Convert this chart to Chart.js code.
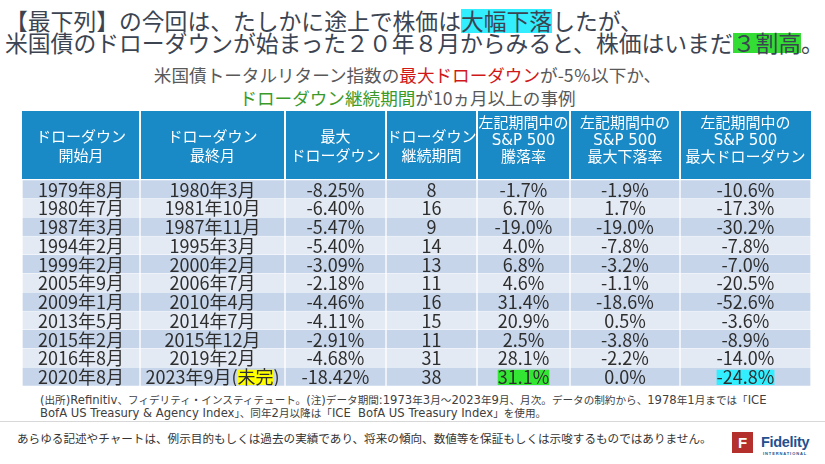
<!DOCTYPE html>
<html lang="ja"><head><meta charset="utf-8">
<script src="https://cdn.jsdelivr.net/npm/chart.js@4.4.0/dist/chart.umd.min.js"></script>
<style>
html,body{margin:0;padding:0;background:#fff;}
#page{position:relative;width:825px;height:464px;overflow:hidden;font-family:"Noto Sans CJK JP","Noto Sans",sans-serif;}
#title{position:absolute;left:5px;top:10px;font-size:22.8px;line-height:22px;color:#3c4452;white-space:nowrap;}
.hl{background-repeat:no-repeat;background-position:0 55%;}
.cy{background-image:linear-gradient(#33eeff,#33eeff);background-size:100% 24px;}
.gr{background-image:linear-gradient(#33dd33,#33dd33);background-size:100% 20px;}
#sub{position:absolute;left:0;width:815px;top:63px;text-align:center;font-size:17.6px;line-height:23px;color:#595959;white-space:nowrap;}
.red{color:#d01818}.grn{color:#3a9a2a}
#chartBox{position:absolute;left:22px;top:111px;width:789px;height:275px;}
#note{position:absolute;left:40px;top:394px;font-size:10.6px;line-height:11.7px;color:#404040;white-space:nowrap;}
#note .lt{font-family:"DejaVu Sans",sans-serif;font-size:11.6px;}
#rule{position:absolute;left:0;top:421px;width:825px;height:1px;background:#d8d8d8;}
#disc{position:absolute;left:17px;top:431px;font-size:11.6px;line-height:14px;color:#333;white-space:nowrap;}
#logoMark{position:absolute;left:732px;top:432px;width:21px;height:21px;background:#b3302c;color:#fff;font:bold 15px "Liberation Sans",sans-serif;text-align:center;line-height:21px;}
#logoText{position:absolute;left:761px;top:434px;font:bold 14.5px "Liberation Sans",sans-serif;letter-spacing:-0.3px;color:#23508e;line-height:16px;}
#logoSub{position:absolute;left:763px;top:451px;font:bold 4px "Liberation Sans",sans-serif;letter-spacing:0.9px;color:#23508e;line-height:5px;}
</style></head>
<body><div id="page">
<div id="title">【最下列】の今回は、たしかに途上で株価は<span class="hl cy">大幅下落</span>したが、<br>米国債のドローダウンが始まった２０年８月からみると、株価はいまだ<span class="hl gr">３割高</span>。</div>
<div id="sub">米国債トータルリターン指数の<span class="red">最大ドローダウン</span>が-5％以下か、<br><span class="grn">ドローダウン継続期間</span>が10ヵ月以上の事例</div>
<div id="chartBox"><canvas id="c" width="789" height="275"></canvas></div>
<div id="note"><span class="lt">(</span>出所<span class="lt">)Refinitiv</span>、フィデリティ・インスティテュート。<span class="lt">(</span>注<span class="lt">)</span>データ期間<span class="lt">:1973</span>年<span class="lt">3</span>月～<span class="lt">2023</span>年<span class="lt">9</span>月、月次。データの制約から、<span class="lt">1978</span>年<span class="lt">1</span>月までは「<span class="lt">ICE</span><br><span class="lt">BofA US Treasury &amp; Agency Index</span>」、同年<span class="lt">2</span>月以降は「<span class="lt">ICE&nbsp; BofA US Treasury Index</span>」を使用。</div>
<div id="rule"></div>
<div id="disc">あらゆる記述やチャートは、例示目的もしくは過去の実績であり、将来の傾向、数値等を保証もしくは示唆するものではありません。</div>
<div id="logoMark">F</div>
<div id="logoText">Fidelity</div>
<div id="logoSub">INTERNATIONAL</div>
</div>
<script>
// ---- data ----
const columnHeaders = [
  ['ドローダウン','開始月'],
  ['ドローダウン','最終月'],
  ['最大','ドローダウン'],
  ['ドローダウン','継続期間'],
  ['左記期間中の','S&P 500','騰落率'],
  ['左記期間中の','S&P 500','最大下落率'],
  ['左記期間中の','S&P 500','最大ドローダウン']
];
const startMonths = ['1979年8月','1980年7月','1987年3月','1994年2月','1999年2月','2005年9月','2009年1月','2013年5月','2015年2月','2016年8月','2020年8月'];
const endMonths = ['1980年3月','1981年10月','1987年11月','1995年3月','2000年2月','2006年7月','2010年4月','2014年7月','2015年12月','2019年2月','2023年9月(未完)'];
const maxDrawdown = [-8.25,-6.40,-5.47,-5.40,-3.09,-2.18,-4.46,-4.11,-2.91,-4.68,-18.42];
const durationMonths = [8,16,9,14,13,11,16,15,11,31,38];
const spReturn = [-1.7,6.7,-19.0,4.0,6.8,4.6,31.4,20.9,2.5,28.1,31.1];
const spMaxDecline = [-1.9,1.7,-19.0,-7.8,-3.2,-1.1,-18.6,0.5,-3.8,-2.2,0.0];
const spMaxDrawdown = [-10.6,-17.3,-30.2,-7.8,-7.0,-20.5,-52.6,-3.6,-8.9,-14.0,-24.8];

// ---- layout / style (not data) ----
const colEdges = [0,118,263,364,455,548,658,789];
const headerHeight = 69;
const FONT = '"Noto Sans CJK JP","Noto Sans",sans-serif';
const HEADER_FONT = '"DejaVu Sans","Noto Sans CJK JP",sans-serif';
const headerColor = '#1a8ac6';
const rowDark = '#c6d5ea', rowLight = '#e4eaf4';
const cellTextColor = '#2e2e2e';
const highlights = [
  {col:1,row:10,part:'未完',color:'#ffff00'},
  {col:4,row:10,color:'#33e633'},
  {col:6,row:10,color:'#33eeff'}
];

const pct1 = v => v.toFixed(1) + '%';
const cellTexts = [
  startMonths,
  endMonths,
  maxDrawdown.map(v => v.toFixed(2) + '%'),
  durationMonths.map(String),
  spReturn.map(pct1),
  spMaxDecline.map(pct1),
  spMaxDrawdown.map(pct1)
];

const tablePlugin = {
  id: 'tableDecor',
  beforeDatasetsDraw(chart) {
    const {ctx, chartArea, scales:{x}} = chart;
    const top = chartArea.top - headerHeight;
    const left = x.getPixelForValue(colEdges[0]);
    const right = x.getPixelForValue(colEdges[colEdges.length-1]);
    ctx.save();
    ctx.fillStyle = headerColor;
    ctx.fillRect(left, top, right-left, headerHeight);
    ctx.fillStyle = '#ffffff';
    for (let i=1;i<colEdges.length-1;i++){
      const px = x.getPixelForValue(colEdges[i]);
      ctx.fillRect(px-1, top, 2, headerHeight);
    }
    ctx.fillRect(left, chartArea.top-1, right-left, 1);
    ctx.font = '15px ' + HEADER_FONT;
    ctx.textAlign = 'center';
    ctx.textBaseline = 'middle';
    columnHeaders.forEach((lines,c) => {
      const cx = (x.getPixelForValue(colEdges[c]) + x.getPixelForValue(colEdges[c+1]))/2;
      const n = lines.length, gap = n===3 ? 17 : 19, cy = top + (n===3 ? 30 : 36.5);
      lines.forEach((t,i) => ctx.fillText(t, cx, cy + (i-(n-1)/2)*gap));
    });
    ctx.restore();
  },
  afterDatasetsDraw(chart) {
    const {ctx} = chart;
    ctx.save();
    ctx.font = '18px ' + FONT;
    ctx.textBaseline = 'middle';
    ctx.textAlign = 'left';
    chart.data.datasets.forEach((ds,c) => {
      const meta = chart.getDatasetMeta(c);
      meta.data.forEach((el,r) => {
        const p = el.getProps(['x','y','base','height'], true);
        const cx = (p.x + p.base)/2;
        const text = cellTexts[c][r];
        const w = ctx.measureText(text).width;
        const hl = highlights.find(h => h.col===c && h.row===r);
        if (hl) {
          let hx = cx - w/2, hw = w;
          if (hl.part) {
            const idx = text.indexOf(hl.part);
            hx += ctx.measureText(text.slice(0, idx)).width;
            hw = ctx.measureText(hl.part).width;
          }
          ctx.fillStyle = hl.color;
          ctx.fillRect(hx, p.y - p.height/2 + 2.5, hw, p.height - 3.5);
        }
        ctx.fillStyle = cellTextColor;
        ctx.fillText(text, cx - w/2, p.y + 0.5);
      });
    });
    ctx.restore();
  }
};

const datasets = columnHeaders.map((h,c) => ({
  label: h.join(''),
  data: startMonths.map(() => [colEdges[c], colEdges[c+1]]),
  grouped: false,
  barPercentage: 1,
  categoryPercentage: 1,
  backgroundColor: ctx => (ctx.dataIndex % 2 === 0 ? rowDark : rowLight),
  borderColor: '#ffffff',
  borderWidth: {left:1,right:1,top:0.5,bottom:0.5},
  borderSkipped: false
}));

new Chart(document.getElementById('c'), {
  type: 'bar',
  data: { labels: startMonths, datasets },
  options: {
    indexAxis: 'y',
    responsive: false,
    animation: false,
    devicePixelRatio: 1,
    layout: { padding: { top: headerHeight, left: 0, right: 0, bottom: 0 } },
    scales: {
      x: { type: 'linear', min: colEdges[0], max: colEdges[colEdges.length-1], display: false },
      y: { type: 'category', display: false, offset: true }
    },
    plugins: { legend: { display: false }, tooltip: { enabled: false } }
  },
  plugins: [tablePlugin]
});
</script>
</body></html>
